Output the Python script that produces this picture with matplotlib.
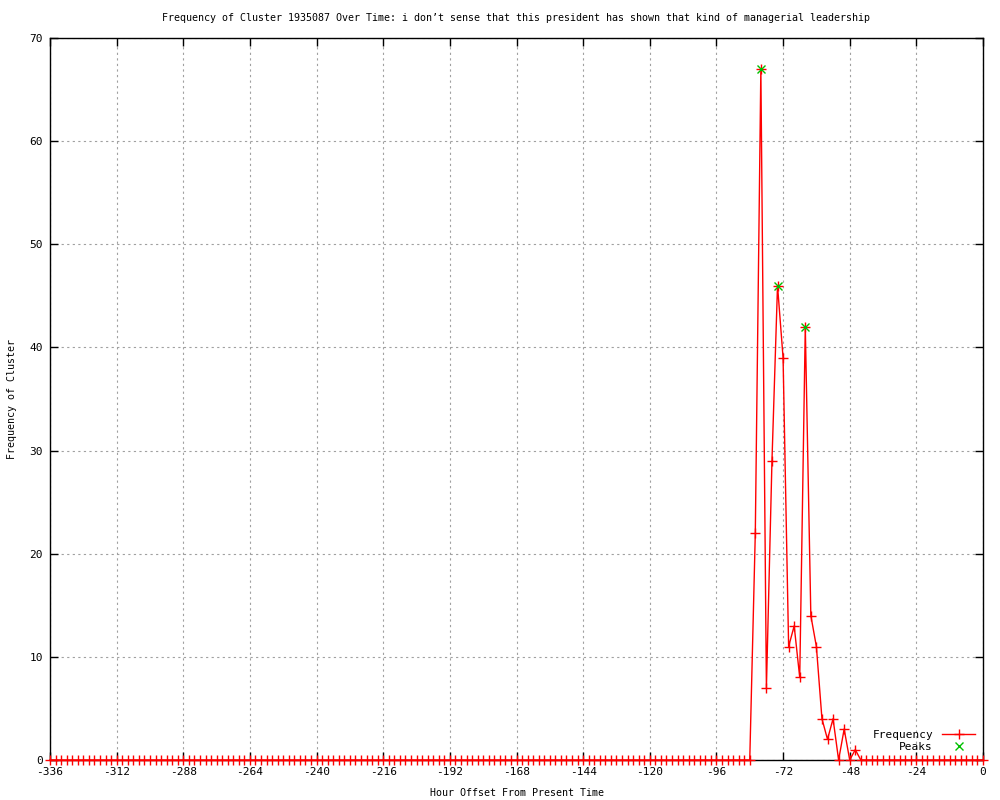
import matplotlib
matplotlib.use("Agg")
import matplotlib.pyplot as plt
import numpy as np

# Data: hour offsets every 2 hours from -336 to 0
hours = list(range(-336, 1, 2))
nonzero = {
    -82: 22, -80: 67, -78: 7, -76: 29, -74: 46, -72: 39, -70: 11,
    -68: 13, -66: 8, -64: 42, -62: 14, -60: 11, -58: 4, -56: 2,
    -54: 4, -52: 0, -50: 3, -48: 0, -46: 1,
}
freq = [nonzero.get(h, 0) for h in hours]

peak_hours = [-80, -74, -64]
peak_vals = [67, 46, 42]

xticks = list(range(-336, 1, 24))
yticks = list(range(0, 71, 10))

title = "Frequency of Cluster 1935087 Over Time: i don\u2019t sense that this president has shown that kind of managerial leadership"

plt.rcParams['font.family'] = ['DejaVu Sans Mono', 'DejaVu Sans']
plt.rcParams['axes.unicode_minus'] = False

fig = plt.figure(figsize=(10, 8), dpi=100)
ax = fig.add_axes([0.05, 0.05, 0.933, 0.9025])

ax.plot(hours, freq, color='red', linewidth=1, marker='+', markersize=6.5,
        markeredgewidth=1, label='Frequency', clip_on=False, zorder=3)
ax.plot(peak_hours, peak_vals, linestyle='none', color='#00c000', marker='x',
        markersize=5.5, markeredgewidth=1, label='Peaks', clip_on=False, zorder=4)

ax.set_xlim(-336, 0)
ax.set_ylim(0, 70)
ax.set_xticks(xticks)
ax.set_yticks(yticks)
ax.tick_params(direction='in', top=True, right=True, length=6, width=1,
               labelsize=8, colors='black', pad=5)
ax.grid(True, color='#a0a0a0', linestyle=(0, (2, 3)), linewidth=0.8)
for s in ax.spines.values():
    s.set_linewidth(1)
    s.set_color('black')

ax.set_title(title, fontsize=7.2, pad=12)
ax.set_xlabel("Hour Offset From Present Time", fontsize=7.2, labelpad=8)
ax.set_ylabel("Frequency of Cluster", fontsize=7.2, labelpad=9)

leg = ax.legend(loc='lower right', frameon=False, fontsize=8,
                markerfirst=False, handlelength=3, borderaxespad=0.3,
                labelspacing=0.2)

fig.savefig("out.png", dpi=100)
